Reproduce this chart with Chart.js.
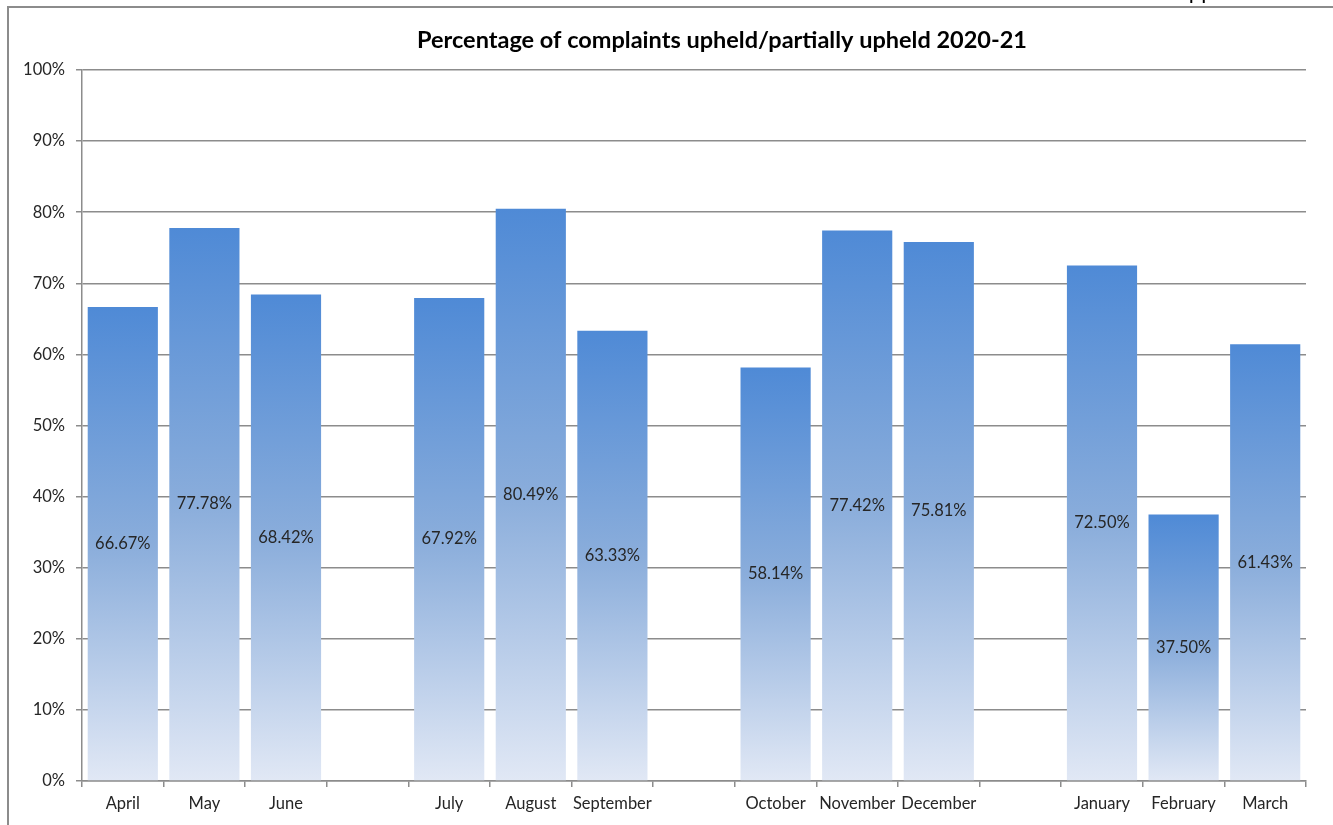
<!DOCTYPE html>
<html lang="en">
<head>
    <meta charset="UTF-8">
    <title>Percentage of complaints upheld/partially upheld 2020-21</title>
    <script src="https://cdn.jsdelivr.net/npm/chart.js"></script>
    <style>
        html, body {
            margin: 0;
            padding: 0;
            background: #ffffff;
        }
        #wrap {
            width: 1333px;
            height: 825px;
            position: relative;
        }
    </style>
</head>
<body>
    <div id="wrap">
        <canvas id="myChart" width="1333" height="825"></canvas>
    </div>

    <script>
        // months, with empty slots between the quarters
        const months = ['April', 'May', 'June', '', 'July', 'August', 'September', '',
            'October', 'November', 'December', '', 'January', 'February', 'March'];
        const upheld = [66.67, 77.78, 68.42, null, 67.92, 80.49, 63.33, null,
            58.14, 77.42, 75.81, null, 72.50, 37.50, 61.43];
        const yTicks = [0, 10, 20, 30, 40, 50, 60, 70, 80, 90, 100];
        const chartTitle = 'Percentage of complaints upheld/partially upheld 2020-21';

        const fontName = 'Lato, "Open Sans", sans-serif';

        // each bar gets its own gradient, dark blue at top, pale at the bottom
        function barFill(context) {
            const chart = context.chart;
            const yScale = chart.scales.y;
            const v = context.raw;
            if (!chart.chartArea || !yScale || v === null || v === undefined) {
                return '#7fa6da';
            }
            const top = yScale.getPixelForValue(v);
            const bottom = yScale.getPixelForValue(0);
            if (!isFinite(top) || !isFinite(bottom) || top === bottom) {
                return '#7fa6da';
            }
            const g = chart.ctx.createLinearGradient(0, top, 0, bottom);
            g.addColorStop(0, '#4f8ad6');
            g.addColorStop(0.5, '#8aaddb');
            g.addColorStop(1, '#e1e8f5');
            return g;
        }

        // value labels in the middle of each bar, title and frame
        const decorations = {
            id: 'decorations',
            afterDatasetsDraw(chart) {
                const ctx = chart.ctx;
                const meta = chart.getDatasetMeta(0);
                ctx.save();
                ctx.font = '16.5px ' + fontName;
                ctx.fillStyle = '#262626';
                ctx.textAlign = 'center';
                ctx.textBaseline = 'middle';
                meta.data.forEach((bar, i) => {
                    const v = upheld[i];
                    if (v === null) return;
                    ctx.fillText(v.toFixed(2) + '%', bar.x, (bar.y + bar.base) / 2);
                });
                ctx.restore();
            },
            afterDraw(chart) {
                const ctx = chart.ctx;
                ctx.save();
                // frame of the original chart box
                ctx.strokeStyle = '#8c8c8c';
                ctx.lineWidth = 2;
                ctx.beginPath();
                ctx.moveTo(8, 825);
                ctx.lineTo(8, 7);
                ctx.lineTo(1333, 7);
                ctx.stroke();

                ctx.fillStyle = '#000000';
                ctx.font = 'bold 23.5px ' + fontName;
                ctx.textAlign = 'center';
                ctx.textBaseline = 'middle';
                ctx.fillText(chartTitle, 722, 40);

                // cut-off heading above the chart
                ctx.font = '22px ' + fontName;
                ctx.textAlign = 'left';
                ctx.textBaseline = 'alphabetic';
                ctx.fillText('Appendix', 1174, -1);
                ctx.restore();
            }
        };

        const ctx = document.getElementById('myChart').getContext('2d');
        const chart = new Chart(ctx, {
            type: 'bar',
            data: {
                labels: months,
                datasets: [{
                    label: 'Upheld',
                    data: upheld,
                    backgroundColor: barFill,
                    borderWidth: 0,
                    categoryPercentage: 0.86,
                    barPercentage: 1.0
                }]
            },
            plugins: [decorations],
            options: {
                responsive: false,
                animation: false,
                layout: {
                    padding: { top: 70, right: 27, bottom: 0, left: 0 }
                },
                scales: {
                    x: {
                        offset: true,
                        grid: {
                            offset: true,
                            drawOnChartArea: false,
                            drawTicks: true,
                            tickLength: 6,
                            color: '#8c8c8c',
                            lineWidth: 1.5
                        },
                        border: { color: '#8c8c8c', width: 1.5 },
                        ticks: {
                            color: '#262626',
                            font: { family: fontName, size: 16.5 },
                            padding: 7,
                            maxRotation: 0,
                            autoSkip: false
                        },
                        afterFit(scale) {
                            scale.height = 44;
                        }
                    },
                    y: {
                        min: 0,
                        max: 100,
                        afterBuildTicks(scale) {
                            scale.ticks = yTicks.map(v => ({ value: v }));
                        },
                        grid: {
                            color: '#8c8c8c',
                            lineWidth: 1.5,
                            tickLength: 6
                        },
                        border: { color: '#8c8c8c', width: 1.5 },
                        ticks: {
                            color: '#262626',
                            font: { family: fontName, size: 16.5 },
                            padding: 11,
                            callback: v => v + '%'
                        },
                        afterFit(scale) {
                            scale.width = 82;
                        }
                    }
                },
                plugins: {
                    legend: { display: false },
                    title: { display: false },
                    tooltip: { enabled: false }
                }
            }
        });
    </script>
</body>
</html>
